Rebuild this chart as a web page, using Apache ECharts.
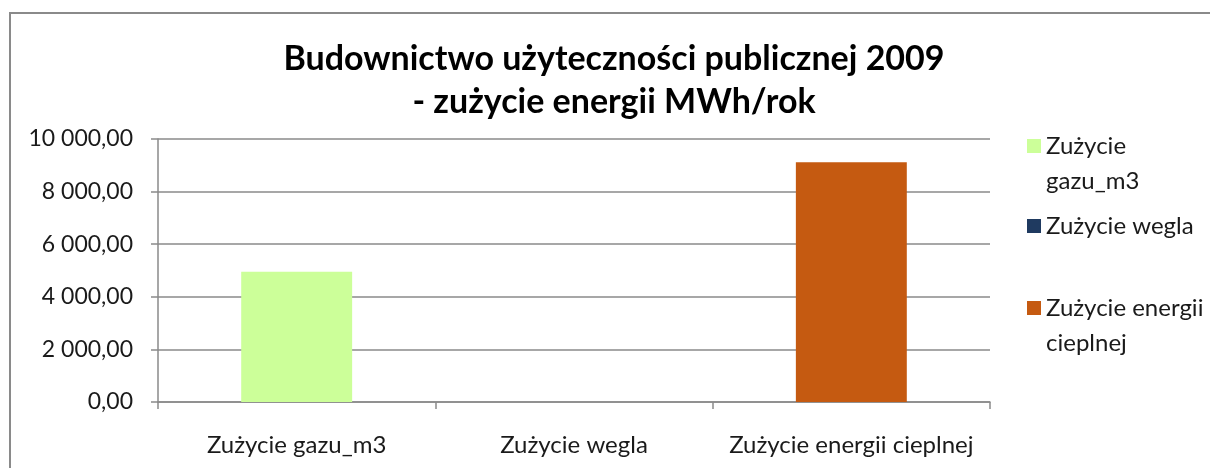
<!DOCTYPE html>
<html>
<head>
<meta charset="utf-8">
<script src="https://cdn.jsdelivr.net/npm/echarts@6/dist/echarts.min.js"></script>
<style>html,body{margin:0;padding:0;background:#fff}#c{width:1210px;height:468px}</style>
</head>
<body>
<div id="c"></div>
<script>
const categories = ['Zużycie gazu_m3', 'Zużycie wegla', 'Zużycie energii cieplnej'];
const seriesNames = ['Zużycie gazu_m3', 'Zużycie wegla', 'Zużycie energii cieplnej'];
const legendLabels = ['\nZużycie\ngazu_m3', 'Zużycie wegla', '\nZużycie energii\ncieplnej'];
const gazValues = [4950, '-', '-'];
const weglaValues = ['-', 0, '-'];
const cieplnaValues = ['-', '-', 9120];
const colors = ['#CCFF99', '#1F3A60', '#C55A11'];
const titleText = 'Budownictwo użyteczności publicznej 2009\n- zużycie energii MWh/rok';

const FONT = 'Lato';
const chart = echarts.init(document.getElementById('c'), null, {renderer: 'canvas'});

function fmt(v) {
  const s = Math.round(v).toString().replace(/\B(?=(\d{3})+(?!\d))/g, ' ');
  return s + ',00';
}

const legendTops = [93.5, 208.5, 255.5];
const legends = seriesNames.map((n, i) => ({
  left: 1027, top: legendTops[i], orient: 'vertical',
  itemWidth: 14, itemHeight: 14, itemGap: 0, padding: 0,
  icon: 'rect', selectedMode: false,
  data: [n],
  formatter: () => legendLabels[i],
  textStyle: {fontFamily: FONT, fontSize: 24, color: '#1a1a1a', lineHeight: 35}
}));

const vals = [gazValues, weglaValues, cieplnaValues];
chart.setOption({
  animation: false,
  color: colors,
  graphic: [{type: 'rect', shape: {x: 10, y: 13, width: 1220, height: 500}, style: {fill: 'none', stroke: '#8a8a8a', lineWidth: 2}, silent: true}],
  title: {text: titleText, left: 614, top: 38, textAlign: 'center', padding: 0,
    textStyle: {fontFamily: FONT, fontSize: 34, fontWeight: 'bold', color: '#000', lineHeight: 43}},
  legend: legends,
  grid: {left: 158, right: 220, top: 139, bottom: 66, containLabel: false},
  xAxis: {type: 'category', data: categories,
    axisLine: {lineStyle: {color: '#8a8a8a', width: 1.5}},
    axisTick: {show: true, length: 7, interval: 0, alignWithLabel: false, lineStyle: {color: '#8a8a8a', width: 1.5}},
    axisLabel: {interval: 0, hideOverlap: false, fontFamily: FONT, fontSize: 24, color: '#1a1a1a', margin: 31}},
  yAxis: {type: 'value', min: 0, max: 10000, interval: 2000,
    axisLine: {show: true, lineStyle: {color: '#8a8a8a', width: 1.5}},
    axisTick: {show: true, length: 7, lineStyle: {color: '#8a8a8a', width: 1.5}},
    splitLine: {lineStyle: {color: '#8a8a8a', width: 1.5}},
    axisLabel: {fontFamily: FONT, fontSize: 23, color: '#1a1a1a', margin: 25, formatter: fmt}},
  series: seriesNames.map((n, i) => ({
    name: n, type: 'bar', stack: 'all', barWidth: '40%', data: vals[i],
    itemStyle: {color: colors[i]}
  }))
});
</script>
</body>
</html>
